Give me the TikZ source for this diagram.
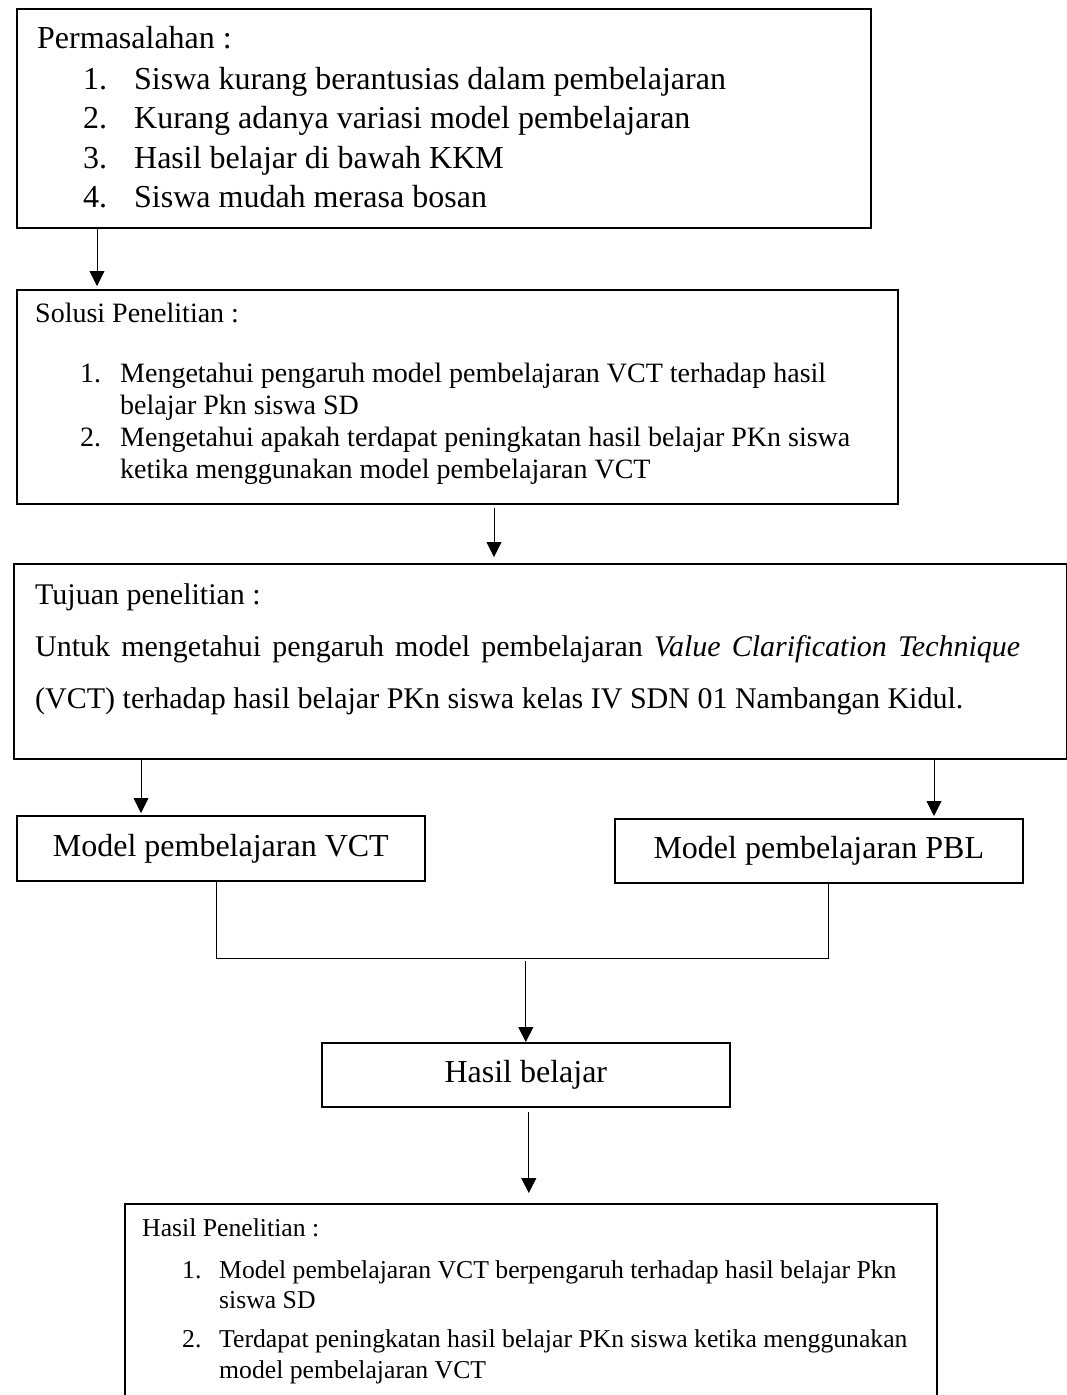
\documentclass[tikz,border=0pt]{standalone}
\usepackage{fontspec}
\setmainfont{Liberation Serif}
\usetikzlibrary{arrows.meta}

\begin{document}
\begin{tikzpicture}[x=1pt, y=-1pt,
    box/.style={draw, line width=1.6pt, inner sep=0pt, anchor=north west},
    txt/.style={anchor=base west, inner sep=0pt},
    permfont/.style={font=\fontsize{32}{39}\selectfont},
    solfont/.style={font=\fontsize{28}{32}\selectfont},
    tujfont/.style={font=\fontsize{30}{36}\selectfont},
    resfont/.style={font=\fontsize{25.7}{30}\selectfont},
    arr/.style={line width=0.9pt, -{Triangle[length=15pt,width=15pt]}},
    link/.style={line width=0.8pt}]
    \clip (0,0) rectangle (1067,1395);
    \fill[white] (0,0) rectangle (1067,1395);

    % kotak
    \node[box, minimum width=854pt, minimum height=219pt] (perm) at (16,8) {};
    \node[box, minimum width=881pt, minimum height=214pt] (solusi) at (16,289) {};
    \node[box, minimum width=1053pt, minimum height=195pt] (tujuan) at (13,563) {};
    \node[box, permfont, minimum width=408pt, minimum height=65pt] (vct) at (16,815) {Model pembelajaran VCT};
    \node[box, permfont, minimum width=408pt, minimum height=64pt] (pbl) at (614,818) {Model pembelajaran PBL};
    \node[box, permfont, minimum width=408pt, minimum height=64pt] (hasil) at (321,1042) {Hasil belajar};
    \node[box, minimum width=812pt, minimum height=230pt] (penelitian) at (124,1203) {};

    % permasalahan
    \node[txt, permfont] (permhead) at (37,48) {Permasalahan :};
    \node[txt, permfont] (perma) at (83,89) {\makebox[51pt][l]{1.}Siswa kurang berantusias dalam pembelajaran};
    \node[txt, permfont] (permb) at (83,128.5) {\makebox[51pt][l]{2.}Kurang adanya variasi model pembelajaran};
    \node[txt, permfont] (permc) at (83,168) {\makebox[51pt][l]{3.}Hasil belajar di bawah KKM};
    \node[txt, permfont] (permd) at (83,207.5) {\makebox[51pt][l]{4.}Siswa mudah merasa bosan};

    % solusi
    \node[txt, solfont] (solhead) at (35,322) {Solusi Penelitian :};
    \node[txt, solfont] (sola) at (80,382) {\makebox[40pt][l]{1.}Mengetahui pengaruh model pembelajaran VCT terhadap hasil};
    \node[txt, solfont] (solb) at (120,414) {belajar Pkn siswa SD};
    \node[txt, solfont] (solc) at (80,446) {\makebox[40pt][l]{2.}Mengetahui apakah terdapat peningkatan hasil belajar PKn siswa};
    \node[txt, solfont] (sold) at (120,478) {ketika menggunakan model pembelajaran VCT};

    % tujuan
    \node[txt, tujfont] (tujhead) at (35,604) {Tujuan penelitian :};
    \node[txt, tujfont] (tuja) at (35,656) {\makebox[985pt][s]{Untuk mengetahui pengaruh model pembelajaran \textit{Value Clarification Technique}}};
    \node[txt, tujfont] (tujb) at (35,708) {(VCT) terhadap hasil belajar PKn siswa kelas IV SDN 01 Nambangan Kidul.};

    % hasil penelitian
    \node[txt, resfont] (reshead) at (142,1236) {Hasil Penelitian :};
    \node[txt, resfont] (resa) at (182,1278) {\makebox[37pt][l]{1.}Model pembelajaran VCT berpengaruh terhadap hasil belajar Pkn};
    \node[txt, resfont] (resb) at (219,1308) {siswa SD};
    \node[txt, resfont] (resc) at (182,1347) {\makebox[37pt][l]{2.}Terdapat peningkatan hasil belajar PKn siswa ketika menggunakan};
    \node[txt, resfont] (resd) at (219,1378) {model pembelajaran VCT};

    % panah
    \draw[arr, shorten >=3pt] ([xshift=81pt]perm.south west) -- ([xshift=81pt]perm.south west |- solusi.north);
    \draw[arr, shorten <=3pt, shorten >=6pt] ([xshift=478pt]solusi.south west) -- ([xshift=478pt]solusi.south west |- tujuan.north);
    \draw[arr, shorten >=2pt] ([xshift=128pt]tujuan.south west) -- ([xshift=128pt]tujuan.south west |- vct.north);
    \draw[arr, shorten >=2pt] ([xshift=921pt]tujuan.south west) -- ([xshift=921pt]tujuan.south west |- pbl.north);

    \coordinate (jl) at (216,958);
    \coordinate (jr) at (828,958);
    \draw[link] ([xshift=200pt]vct.south west) -- (jl) -- (jr) -- ([xshift=214pt]pbl.south west);
    \draw[arr, shorten <=3pt] (jl -| hasil.north) -- (hasil.north);
    \draw[arr, shorten <=4pt, shorten >=10pt] ([xshift=3pt]hasil.south) -- ([xshift=3pt]hasil.south |- penelitian.north);
\end{tikzpicture}
\end{document}
